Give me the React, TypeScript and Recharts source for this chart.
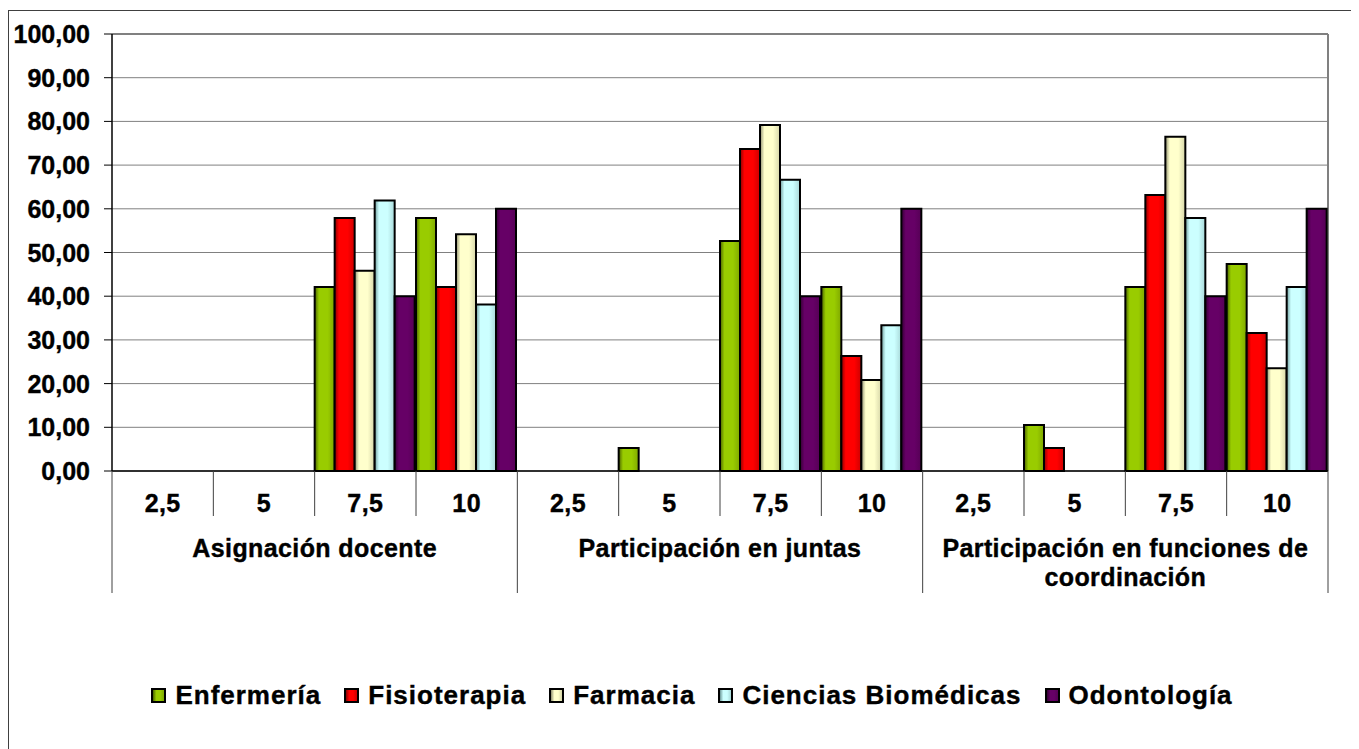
import React from 'react';
import { BarChart, Bar, XAxis, YAxis, CartesianGrid, Legend } from 'recharts';

const subCategories = ['2,5', '5', '7,5', '10'];
const groups = [
  'Asignación docente',
  'Participación en juntas',
  'Participación en funciones de coordinación',
];
const seriesNames = ['Enfermería', 'Fisioterapia', 'Farmacia', 'Ciencias Biomédicas', 'Odontología'];
const enfermeria = [0, 0, 42.11, 57.89, 0, 5.26, 52.63, 42.11, 0, 10.53, 42.11, 47.37];
const fisioterapia = [0, 0, 57.89, 42.11, 0, 0, 73.68, 26.32, 0, 5.26, 63.16, 31.58];
const farmacia = [0, 0, 45.83, 54.17, 0, 0, 79.17, 20.83, 0, 0, 76.47, 23.53];
const cienciasBiomedicas = [0, 0, 61.9, 38.1, 0, 0, 66.67, 33.33, 0, 0, 57.89, 42.11];
const odontologia = [0, 0, 40, 60, 0, 0, 40, 60, 0, 0, 40, 60];
const yTicks = [0, 10, 20, 30, 40, 50, 60, 70, 80, 90, 100];

const seriesValues = [enfermeria, fisioterapia, farmacia, cienciasBiomedicas, odontologia];
const seriesColors = ['#99CC00', '#FF0000', '#FFFFCC', '#CCFFFF', '#660066'];
const seriesDark = ['#4A6300', '#8A0000', '#8F8F70', '#6F9A9A', '#330033'];
const seriesMid = ['#7FA800', '#CC0000', '#D6D6A8', '#A8D8D8', '#550055'];

const data = groups.flatMap((g, gi) =>
  subCategories.map((s, si) => {
    const i = gi * subCategories.length + si;
    const row: Record<string, any> = { key: `${gi}-${si}`, sub: s, group: g };
    seriesNames.forEach((n, k) => {
      row[n] = seriesValues[k][i];
    });
    return row;
  })
);

const FONT = '"Liberation Sans", Arial, sans-serif';
const CHART_W = 1346;
const CHART_H = 743;
const MARGIN = { top: 23, right: 27, left: 13, bottom: 153 };
const Y_W = 90;
const X_H = 130;
const PLOT_W = CHART_W - MARGIN.left - Y_W - MARGIN.right;
const BAND = PLOT_W / data.length;

const wrapLabel = (s: string, max: number) => {
  const words = s.split(' ');
  const lines: string[] = [];
  let cur = '';
  words.forEach((w) => {
    const t = cur ? cur + ' ' + w : w;
    if (t.length > max && cur) {
      lines.push(cur);
      cur = w;
    } else cur = t;
  });
  if (cur) lines.push(cur);
  return lines;
};

const textStyle = {
  fontFamily: FONT,
  fontWeight: 'bold' as const,
  fontSize: 25,
  letterSpacing: 0.4,
};

const CategoryTick = (props: any) => {
  const { x, y, index } = props;
  const row = data[index];
  if (!row) return null;
  const half = BAND / 2;
  const n = subCategories.length;
  const pos = index % n;
  const last = pos === n - 1;
  const sep = '#404040';
  return (
    <g>
      <text
        x={x}
        y={y + 32}
        textAnchor="middle"
        dominantBaseline="central"
        fill="#000"
        stroke="#000"
        strokeWidth={0.4}
        style={textStyle}
      >
        {row.sub}
      </text>
      <line x1={x + half} x2={x + half} y1={y} y2={y + (last ? 122 : 45)} stroke={sep} strokeWidth={1} />
      {index === 0 && <line x1={x - half} x2={x - half} y1={y} y2={y + 122} stroke={sep} strokeWidth={1} />}
      {pos === 1 &&
        wrapLabel(row.group, 30).map((l, li) => (
          <text
            key={li}
            x={x + half}
            y={y + 77 + li * 29}
            textAnchor="middle"
            dominantBaseline="central"
            fill="#000"
            stroke="#000"
            strokeWidth={0.4}
            style={textStyle}
          >
            {l}
          </text>
        ))}
    </g>
  );
};

const ValueTick = (props: any) => {
  const { x, y, payload } = props;
  return (
    <text
      x={x}
      y={y}
      textAnchor="end"
      dominantBaseline="central"
      fill="#000"
      stroke="#000"
      strokeWidth={0.4}
      style={{ fontFamily: FONT, fontWeight: 'bold', fontSize: 25 }}
    >
      {Number(payload.value).toFixed(2).replace('.', ',')}
    </text>
  );
};

const LegendContent = () => (
  <div
    style={{
      display: 'flex',
      justifyContent: 'center',
      alignItems: 'center',
      paddingLeft: 20,
      fontFamily: FONT,
      fontWeight: 'bold',
      fontSize: 26,
      letterSpacing: 1,
      color: '#000',
      WebkitTextStroke: '0.4px #000',
    }}
  >
    {seriesNames.map((n, k) => (
      <div key={n} style={{ display: 'flex', alignItems: 'center', marginRight: k < seriesNames.length - 1 ? 23 : 0 }}>
        <span
          style={{
            display: 'inline-block',
            width: 11,
            height: 11,
            border: '2px solid #000',
            marginRight: 9,
            background: `linear-gradient(to right, ${seriesDark[k]} 0%, ${seriesColors[k]} 30%, ${seriesColors[k]} 65%, ${seriesMid[k]} 100%)`,
          }}
        />
        <span>{n}</span>
      </div>
    ))}
  </div>
);

export default function App() {
  return (
    <div
      style={{
        marginTop: 2,
        width: 1348,
        height: 745,
        border: '1px solid #404040',
        boxSizing: 'border-box',
        position: 'relative',
        background: '#fff',
      }}
    >
      <BarChart
        width={CHART_W}
        height={CHART_H}
        data={data}
        margin={MARGIN}
        barCategoryGap={0}
        barGap={0}
      >
        <defs>
          {seriesColors.map((c, k) => (
            <linearGradient key={k} id={`grad-${k}`} x1="0" y1="0" x2="1" y2="0">
              <stop offset="0%" stopColor={seriesDark[k]} />
              <stop offset="22%" stopColor={c} />
              <stop offset="65%" stopColor={c} />
              <stop offset="100%" stopColor={seriesMid[k]} />
            </linearGradient>
          ))}
        </defs>
        <CartesianGrid vertical={false} stroke="#808080" strokeWidth={1} />
        <CartesianGrid
          stroke="#808080"
          strokeWidth={2}
          horizontalCoordinatesGenerator={({ offset }: any) => [offset.top]}
          verticalCoordinatesGenerator={({ offset }: any) => [offset.left + offset.width]}
        />
        <XAxis
          dataKey="key"
          interval={0}
          height={X_H}
          tickSize={0}
          tickMargin={0}
          tickLine={false}
          axisLine={{ stroke: '#000', strokeWidth: 1.5 }}
          tick={<CategoryTick />}
        />
        <YAxis
          domain={[0, 100]}
          ticks={yTicks}
          interval={0}
          width={Y_W}
          tickSize={8}
          tickMargin={14}
          axisLine={{ stroke: '#000', strokeWidth: 1.5 }}
          tickLine={{ stroke: '#000' }}
          tick={<ValueTick />}
        />
        {seriesNames.map((n, k) => (
          <Bar
            key={n}
            dataKey={n}
            name={n}
            fill={`url(#grad-${k})`}
            stroke="#000"
            strokeWidth={2}
            isAnimationActive={false}
          />
        ))}
        <Legend
          layout="horizontal"
          verticalAlign="middle"
          align="center"
          wrapperStyle={{ top: 669, left: 0, width: CHART_W }}
          content={<LegendContent />}
        />
      </BarChart>
    </div>
  );
}
